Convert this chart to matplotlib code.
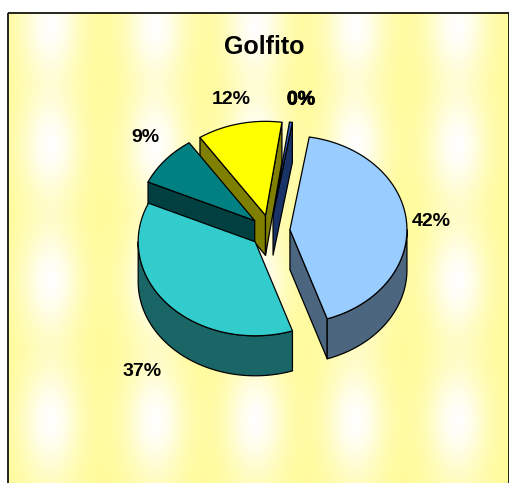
import numpy as np
import matplotlib
matplotlib.use("Agg")
import matplotlib.pyplot as plt
import matplotlib.patheffects as pe
from matplotlib.patches import Polygon, Rectangle

# data
title = "Golfito"
values = [42.2, 36.9, 8.8, 11.7, 0.4]
labels = ["42%", "37%", "9%", "12%", "0%"]
top_colors = ["#99CCFF", "#33CCCC", "#008080", "#FFFF00", "#3366CC"]

# layout (pixels)
W, H = 510, 483
cx, cy = 270, 231          # pie centre
rx, ry = 117, 94           # ellipse radii of the top face
depth = 40                 # thickness of the pie
explode = 20               # explosion distance
start = 9.5                # first slice starts here (deg, clockwise from top)
label_xy = [(431, 221), (142, 372), (145, 137), (231, 100), (301, 100)]

# background texture spots
spot_cols = [50, 155, 255, 355, 457]
spot_rows = [25, 145, 280, 420]

plt.rcParams['font.family'] = ['Liberation Sans', 'DejaVu Sans']

fig = plt.figure(figsize=(W / 100, H / 100), dpi=100)
ax = fig.add_axes([0, 0, 1, 1])
ax.set_xlim(0, W)
ax.set_ylim(H, 0)
ax.axis('off')

# textured yellow background (soft white patches)
yy, xx = np.mgrid[12:H + 1, 8:W + 1].astype(float)
gx = sum(np.exp(-((xx - c) / 30.0) ** 2) for c in spot_cols)
gy = sum(np.exp(-((yy - r) / 50.0) ** 2) for r in spot_rows)
w = np.clip(0.18 + 0.8 * gx * gy + 0.2 * gx * (1 - gy), 0, 1)
base = np.array([255, 250, 130]) / 255.0
img = base * (1 - w[..., None]) + np.ones(3) * w[..., None]
ax.imshow(img, extent=[8, W + 1, H + 1, 12], zorder=0, interpolation='bilinear')
ax.add_patch(Rectangle((8.5, 12.5), W - 9.5, H, fill=False, ec='black', lw=1.2, zorder=1))


def rim(c, t):
    t = np.radians(t)
    return np.column_stack([c[0] + rx * np.sin(t), c[1] - ry * np.cos(t)])


def darker(col, f=0.5):
    r, g, b = matplotlib.colors.to_rgb(col)
    return (r * f, g * f, b * f)


angles = np.cumsum([0] + values) / np.sum(values) * 360 + start
slices = []
for i, v in enumerate(values):
    a, b = angles[i], angles[i + 1]
    m = np.radians((a + b) / 2)
    c = (cx + explode * np.sin(m), cy - explode * (ry / rx) * np.cos(m))
    slices.append((i, a, b, c, np.cos(m)))

# back slices first
slices.sort(key=lambda s: -s[4])
edge = dict(ec='black', lw=0.9, joinstyle='round')
for i, a, b, c, _ in slices:
    side = darker(top_colors[i])
    # radial walls
    for ang, visible in ((a, np.cos(np.radians(a - 90)) < 0), (b, np.cos(np.radians(b + 90)) < 0)):
        if visible:
            p = rim(c, [ang])[0]
            poly = [c, p, (p[0], p[1] + depth), (c[0], c[1] + depth)]
            ax.add_patch(Polygon(poly, fc=side, zorder=2, **edge))
    # outer wall (front half only)
    lo, hi = max(a, 90), min(b, 270)
    if hi > lo:
        t = np.linspace(lo, hi, 80)
        top = rim(c, t)
        bot = top + [0, depth]
        ax.add_patch(Polygon(np.vstack([top, bot[::-1]]), fc=side, zorder=2, **edge))
    # top face
    t = np.linspace(a, b, max(3, int((b - a) * 2)))
    ax.add_patch(Polygon(np.vstack([[c], rim(c, t)]), fc=top_colors[i], zorder=2, **edge))

ax.text(264, 47, title, ha='center', va='center', fontsize=18, fontweight='bold', zorder=5)
for (x, y), lab in zip(label_xy, labels):
    t = ax.text(x, y, lab, ha='center', va='center', fontsize=14, fontweight='bold', zorder=5)
    if lab == "0%":
        t.set_path_effects([pe.withStroke(linewidth=0.6, foreground='black')])

fig.savefig("out.png", dpi=100)
